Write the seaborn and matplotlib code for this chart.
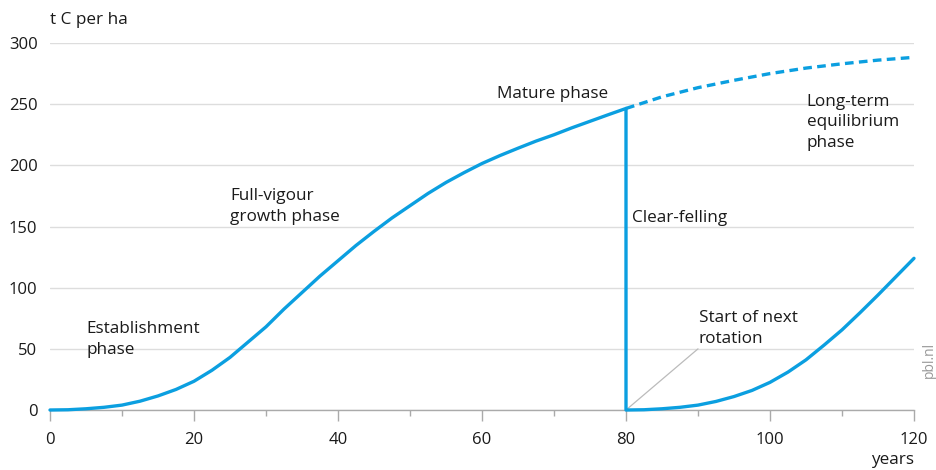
import matplotlib
matplotlib.use("Agg")
import matplotlib.pyplot as plt
import seaborn as sns
import pandas as pd

# Data
main_years = [0, 2.5, 5, 7.5, 10, 12.5, 15, 17.5, 20, 22.5, 25, 27.5, 30, 32.5, 35,
              37.5, 40, 42.5, 45, 47.5, 50, 52.5, 55, 57.5, 60, 62.5, 65, 67.5,
              70, 72.5, 75, 77.5, 80]
main_carbon = [0, 0.2, 1, 2.2, 4, 7.2, 11.5, 16.8, 23.5, 32.5, 43, 55.5, 68, 82.5, 96,
               109.5, 122, 134.5, 146, 157, 167, 177, 186, 194, 201.5, 208, 214, 219.8,
               225, 230.7, 236, 241.3, 246.5]
fell_years = [80, 80]
fell_carbon = [246.5, 0]
next_years = [80, 82.5, 85, 87.5, 90, 92.5, 95, 97.5, 100, 102.5, 105, 107.5, 110,
              112.5, 115, 117.5, 120]
next_carbon = [0, 0.2, 1, 2.2, 4, 7, 11, 16, 22.6, 31, 41, 53, 65.5, 79.5, 94, 109, 124]
equil_years = [80, 85, 90, 95, 100, 105, 110, 115, 120]
equil_carbon = [246.5, 256, 263.5, 269.5, 275, 279.5, 283, 286, 288.3]

x_ticks = [0, 20, 40, 60, 80, 100, 120]
y_ticks = [0, 50, 100, 150, 200, 250, 300]

BLUE = "#0b9fe0"
TEXT = "#1a1a1a"

sns.set_theme(style="white")
plt.rcParams["font.family"] = ["Open Sans", "DejaVu Sans"]

fig = plt.figure(figsize=(9.36, 4.70), dpi=100)
ax = fig.add_axes([50 / 936, 1 - 410 / 470, 864 / 936, 367 / 470])

solid = pd.DataFrame({
    "year": main_years + fell_years[1:] + next_years[1:],
    "carbon": main_carbon + fell_carbon[1:] + next_carbon[1:],
})
sns.lineplot(data=solid, x="year", y="carbon", estimator=None, sort=False,
             color=BLUE, linewidth=2.4, ax=ax, clip_on=False, zorder=3)
dashed = pd.DataFrame({"year": equil_years, "carbon": equil_carbon})
sns.lineplot(data=dashed, x="year", y="carbon", estimator=None, sort=False,
             color=BLUE, linewidth=2.4, ax=ax, clip_on=False, zorder=3,
             linestyle=(0, (2.6, 1.6)))

ax.set_xlim(0, 120)
ax.set_ylim(0, 300)
ax.set_xticks(x_ticks)
ax.set_xticks([10, 30, 50, 70, 90, 110], minor=True)
ax.set_yticks(y_ticks)
ax.set_xticklabels([str(v) for v in x_ticks], fontsize=12, color=TEXT)
ax.set_yticklabels([str(v) for v in y_ticks], fontsize=12, color=TEXT)
ax.tick_params(axis="x", which="major", length=8, width=1, color="#aaaaaa",
               direction="out", pad=8, bottom=True)
ax.tick_params(axis="x", which="minor", length=4, width=1, color="#aaaaaa",
               direction="out", bottom=True)
ax.tick_params(axis="y", length=0, pad=9)
for s in ["top", "right", "left"]:
    ax.spines[s].set_visible(False)
ax.spines["bottom"].set_color("#aaaaaa")
ax.spines["bottom"].set_linewidth(1)
ax.grid(axis="y", color="#dddddd", linewidth=1)
ax.grid(axis="x", visible=False)
ax.set_xlabel("")
ax.set_ylabel("")

fs = 12.3
ax.text(0, 1.062, "t C per ha", transform=ax.transAxes, fontsize=fs,
        color=TEXT, ha="left", va="center")
ax.text(1.0, -0.137, "years", transform=ax.transAxes, fontsize=fs,
        color=TEXT, ha="right", va="center")
ax.text(1.009, 0.136, "pbl.nl", transform=ax.transAxes, fontsize=10,
        color="#999999", rotation=90, ha="left", va="center")

ann = dict(fontsize=fs, color=TEXT, ha="left", va="top", linespacing=1.38)
ax.text(5.1, 72.5, "Establishment\nphase", **ann)
ax.text(25, 181.5, "Full-vigour\ngrowth phase", **ann)
ax.text(62.1, 264.5, "Mature phase", **ann)
ax.text(105.1, 258.5, "Long-term\nequilibrium\nphase", **ann)
ax.text(80.8, 163.5, "Clear-felling", **ann)
ax.text(90.1, 81.5, "Start of next\nrotation", **ann)
ax.plot([80, 90], [0, 50], color="#bbbbbb", linewidth=0.9, zorder=2)

fig.savefig("out.png", dpi=100)
